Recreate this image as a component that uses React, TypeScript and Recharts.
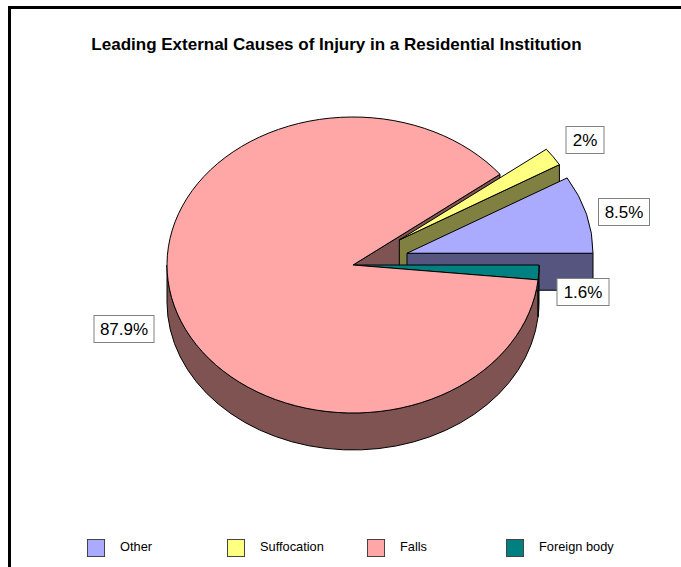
import React from 'react';
import { PieChart, Pie, Legend } from 'recharts';

const TITLE = 'Leading External Causes of Injury in a Residential Institution';
const NAMES = ['Other', 'Suffocation', 'Falls', 'Foreign body'];
const VALUES = [8.5, 2, 87.9, 1.6];
const VALUE_LABELS = ['8.5%', '2%', '87.9%', '1.6%'];
const COLORS = ['#AAAAFF', '#FFFF80', '#FFA6A6', '#008080'];
const DARK_COLORS = ['#555580', '#808040', '#805353', '#004040'];
const EXPLODED = ['Other', 'Suffocation'];

const data = NAMES.map((name, i) => ({
  name,
  value: VALUES[i],
  label: VALUE_LABELS[i],
  fill: COLORS[i],
  dark: DARK_COLORS[i],
}));

const W = 681;
const H = 567;
const CX = 353;
const CY = 265;
const RX = 186;
const SQUASH = 148 / 186;
const DEPTH = 37;
const EXPLODE = 56;

// box centres relative to the pie centre
const LABEL_BOXES: Record<string, { dx: number; dy: number; w: number; h: number }> = {
  Other: { dx: 271, dy: -53, w: 51, h: 27 },
  Suffocation: { dx: 232, dy: -125, w: 38, h: 27 },
  Falls: { dx: -229, dy: 64, w: 60, h: 27 },
  'Foreign body': { dx: 230, dy: 27, w: 52, h: 27 },
};

const LAYERS: { name: string; part: 'wall' | 'top' | 'all' }[] = [
  { name: 'Falls', part: 'wall' },
  { name: 'Suffocation', part: 'all' },
  { name: 'Other', part: 'all' },
  { name: 'Foreign body', part: 'all' },
  { name: 'Falls', part: 'top' },
];

const rad = (a: number) => (a * Math.PI) / 180;

function makeShape(layerName: string, part: 'wall' | 'top' | 'all') {
  return function LayerShape(props: any) {
    const name = props.name ?? props.payload?.name;
    if (name !== layerName) return <g />;
    const { cx, cy, outerRadius: r, startAngle: a0, endAngle: a1, fill } = props;
    const dark = props.dark ?? props.payload?.dark;
    const mid = rad((a0 + a1) / 2);
    const shift = EXPLODED.includes(name) ? EXPLODE : 0;
    const ax = cx + shift * Math.cos(mid);
    const ay = cy - shift * SQUASH * Math.sin(mid);
    const ry = r * SQUASH;
    const pt = (a: number, d = 0): [number, number] => [
      ax + r * Math.cos(rad(a)),
      ay - ry * Math.sin(rad(a)) + d,
    ];
    const f = (p: [number, number]) => `${p[0].toFixed(2)} ${p[1].toFixed(2)}`;

    const [sx, sy] = pt(a0);
    const large = a1 - a0 > 180 ? 1 : 0;
    const topPath = `M ${ax} ${ay} L ${sx} ${sy} A ${r} ${ry} 0 ${large} 0 ${f(pt(a1))} Z`;
    // the cut face at the start angle only shows when it looks towards the viewer
    const edgePath =
      a0 < 180 ? `M ${ax} ${ay} L ${sx} ${sy} L ${sx} ${sy + DEPTH} L ${ax} ${ay + DEPTH} Z` : null;

    const rimStart = Math.max(a0, 180);
    const rimEnd = Math.min(a1, 360);
    const rimPath =
      rimEnd > rimStart
        ? `M ${f(pt(rimStart))} A ${r} ${ry} 0 0 0 ${f(pt(rimEnd))} L ${f(pt(rimEnd, DEPTH))} A ${r} ${ry} 0 0 1 ${f(pt(rimStart, DEPTH))} Z`
        : null;

    const stroke = { stroke: '#000', strokeWidth: 1, strokeLinejoin: 'round' as const };
    return (
      <g>
        {part !== 'top' && edgePath && <path d={edgePath} fill={dark} {...stroke} />}
        {part !== 'top' && rimPath && <path d={rimPath} fill={dark} {...stroke} />}
        {part !== 'wall' && <path d={topPath} fill={fill} {...stroke} />}
      </g>
    );
  };
}

function renderValueLabel(props: any) {
  const name = props.name ?? props.payload?.name;
  const box = LABEL_BOXES[name];
  const text = props.label ?? props.payload?.label;
  const x = props.cx + box.dx;
  const y = props.cy + box.dy;
  return (
    <g key={name}>
      <rect
        x={x - box.w / 2}
        y={y - box.h / 2}
        width={box.w}
        height={box.h}
        fill="#fff"
        stroke="#808080"
        strokeWidth={1}
      />
      <text
        x={x}
        y={y + 6}
        textAnchor="middle"
        fontFamily="'Liberation Sans', Arial, sans-serif"
        fontSize={17}
        fill="#000"
      >
        {text}
      </text>
    </g>
  );
}

const LEGEND_X = [87, 227, 367, 506];

function LegendContent() {
  return (
    <div style={{ position: 'relative', width: W, height: 30 }}>
      {NAMES.map((name, i) => (
        <React.Fragment key={name}>
          <span
            style={{
              position: 'absolute',
              left: LEGEND_X[i],
              top: 0,
              width: 16,
              height: 16,
              background: COLORS[i],
              border: '1px solid #444',
            }}
          />
          <span
            style={{
              position: 'absolute',
              left: LEGEND_X[i] + 33,
              top: -1,
              fontFamily: "'Liberation Sans', Arial, sans-serif",
              fontSize: 12.8,
              lineHeight: '17px',
              color: '#000',
              whiteSpace: 'nowrap',
            }}
          >
            {name}
          </span>
        </React.Fragment>
      ))}
    </div>
  );
}

export default function App() {
  return (
    <div
      style={{
        position: 'absolute',
        left: 0,
        top: 0,
        width: W,
        height: H,
        overflow: 'hidden',
        background: '#fff',
      }}
    >
      <div style={{ position: 'absolute', left: 8, top: 6, width: W, height: 3, background: '#000' }} />
      <div style={{ position: 'absolute', left: 8, top: 6, width: 3, height: H, background: '#000' }} />
      <div
        style={{
          position: 'absolute',
          left: 0,
          top: 36,
          width: 673,
          textAlign: 'center',
          fontFamily: "'Liberation Sans', Arial, sans-serif",
          fontWeight: 'bold',
          fontSize: 17,
          lineHeight: '18px',
          color: '#000',
        }}
      >
        {TITLE}
      </div>
      <PieChart
        width={W}
        height={H}
        margin={{ top: 0, right: 0, bottom: 0, left: 0 }}
        style={{ position: 'absolute', left: 0, top: 0 }}
      >
        {LAYERS.map((layer, i) => {
          const shape = makeShape(layer.name, layer.part);
          const isLast = i === LAYERS.length - 1;
          return (
            <Pie
              key={i}
              data={data}
              dataKey="value"
              nameKey="name"
              cx={CX}
              cy={CY}
              innerRadius={0}
              outerRadius={RX}
              startAngle={0}
              endAngle={360}
              paddingAngle={0}
              isAnimationActive={false}
              legendType={isLast ? 'rect' : 'none'}
              shape={shape}
              inactiveShape={shape}
              label={isLast ? renderValueLabel : false}
              labelLine={false}
              rootTabIndex={-1}
            />
          );
        })}
        <Legend
          content={<LegendContent />}
          wrapperStyle={{ position: 'absolute', left: 0, top: 539, width: W, height: 30 }}
        />
      </PieChart>
    </div>
  );
}
